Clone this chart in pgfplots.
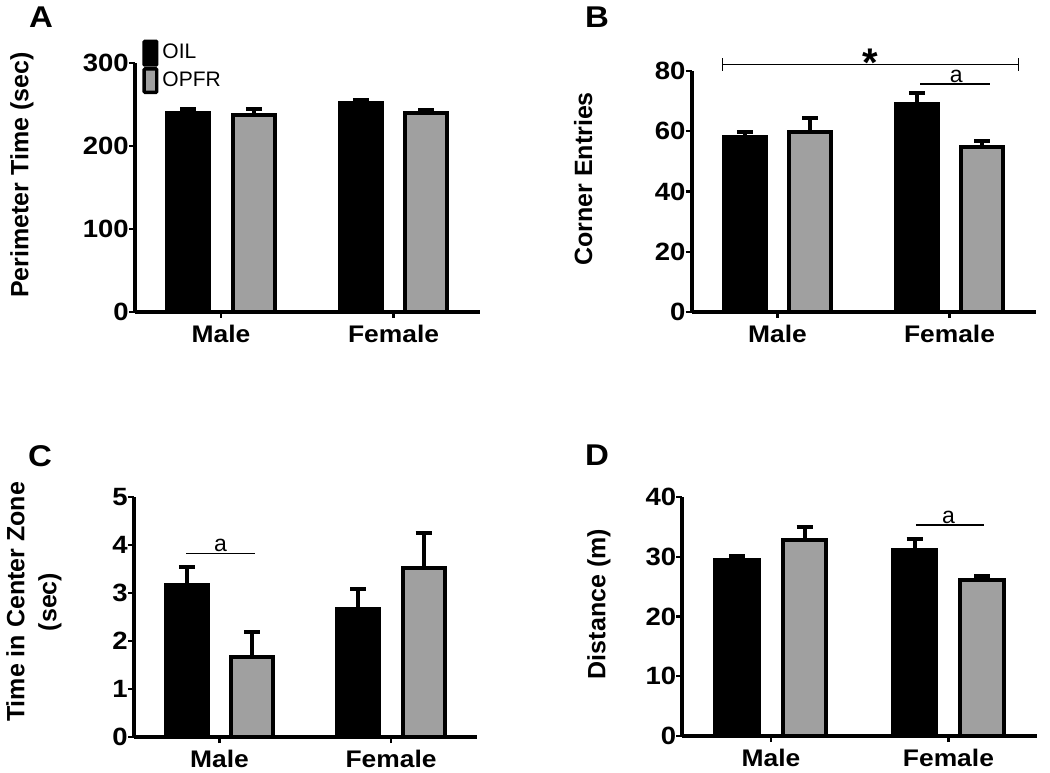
\documentclass[border=0pt]{standalone}
\usepackage{fontspec}
\setmainfont{Liberation Sans}
\newfontfamily\lsans{Liberation Sans}
\newfontfamily\tickfont{Liberation Sans}[FakeStretch=1.1]
\usepackage{pgfplots}
\pgfplotsset{compat=1.18}
\definecolor{opfrgray}{RGB}{160,160,160}
\tikzset{annot/.style={anchor=south, inner sep=0pt, font=\lsans\fontsize{11.5}{12}\selectfont}}
\pgfplotsset{
 panel/.style={
  scale only axis, anchor=south west,
  axis x line*=bottom, axis y line*=left,
  axis line style={line width=2pt,-},
  xmin=-0.5,xmax=1.5, ymin=0,
  xtick={0,1}, xticklabels={Male,Female},
  ybar, bar width=0.245,
  tick style={line width=1.2pt,black},
  major tick length=3pt, tick align=outside,
  /pgf/number format/assume math mode=true,
  yticklabel style={font=\tickfont\bfseries\fontsize{12.5}{14}\selectfont, xshift=3.5pt},
  xticklabel style={font=\tickfont\bfseries\fontsize{12}{14}\selectfont},
  ylabel style={font=\lsans\bfseries\fontsize{12.5}{16}\selectfont, anchor=center},
  clip=false,
  error bars/y dir=plus, error bars/y explicit,
  error bars/error bar style={line width=2pt,black},
  error bars/error mark options={rotate=90, line width=2pt, mark size=4pt,black},
 },
 oil/.style={fill=black,draw=black,line width=2pt,bar shift=-0.19},
 opfr/.style={fill=opfrgray,draw=black,line width=2pt,bar shift=0.19},
}
\begin{document}
\begin{tikzpicture}
\useasboundingbox (0,0) rectangle (525pt,386pt);
% Panel A
\begin{axis}[panel, at={(67.4pt,230pt)}, width=172.5pt, height=124.5pt,
  ymax=300, ytick={0,100,200,300},
  ylabel={Perimeter Time (sec)},
  ylabel style={at={(axis description cs:-0.3275,0.55)}},
  legend style={at={(axis description cs:0.021,1.095)}, anchor=north west, draw=none, fill=none,
    font=\lsans\fontsize{10.5}{12}\selectfont, row sep=0.3pt, inner sep=0pt,
    /tikz/every even column/.append style={column sep=1pt}},
  legend cell align=left]
\addplot[oil, legend image code/.code={\draw[fill=black,draw=black,line width=1pt,rounded corners=0.5pt] (0pt,-6.2pt) rectangle (7pt,6.2pt);}]
  coordinates {(0,240) +- (0,4.5) (1,252) +- (0,3.5)};
\addlegendentry{OIL}
\addplot[opfr, legend image code/.code={\draw[fill=opfrgray,draw=black,line width=1.7pt,rounded corners=0.5pt] (0.35pt,-5.9pt) rectangle (6.65pt,5.9pt);}]
  coordinates {(0,237) +- (0,8) (1,240) +- (0,3.5)};
\addlegendentry{OPFR}
\end{axis}
% Panel B
\begin{axis}[panel, at={(345.75pt,230pt)}, width=172pt, height=120.5pt,
  ymax=80, ytick={0,20,40,60,80},
  ylabel={Corner Entries},
  ylabel style={at={(axis description cs:-0.315,0.552)}}]
\addplot[oil] coordinates {(0,58.1) +- (0,1.5) (1,69.1) +- (0,3.7)};
\addplot[opfr] coordinates {(0,59.8) +- (0,4.7) (1,54.9) +- (0,1.9)};
\draw[line width=0.6pt, |-|] (axis cs:-0.323,82.1) -- (axis cs:1.404,82.1);
\node[font=\lsans\bfseries\fontsize{20}{20}\selectfont] at (axis cs:0.538,82.9) {*};
\draw[line width=0.6pt] (axis cs:0.83,75.7) -- (axis cs:1.235,75.7);
\node[annot] at (axis cs:1.04,75.9) {a};
\end{axis}
% Panel C
\begin{axis}[panel, at={(66.9pt,17.5pt)}, width=171.5pt, height=120pt,
  ymax=5, ytick={0,1,2,3,4,5},
  ylabel={Time in Center Zone\\(sec)},
  ylabel style={align=center, at={(axis description cs:-0.291,0.5625)}}]
\addplot[oil] coordinates {(0,3.17) +- (0,0.37) (1,2.67) +- (0,0.41)};
\addplot[opfr] coordinates {(0,1.67) +- (0,0.52) (1,3.52) +- (0,0.73)};
\draw[line width=0.6pt] (axis cs:-0.195,3.83) -- (axis cs:0.207,3.83);
\node[annot] at (axis cs:0.006,3.85) {a};
\end{axis}
% Panel D
\begin{axis}[panel, at={(341.1pt,18pt)}, width=177.5pt, height=119.5pt,
  ymax=40, ytick={0,10,20,30,40},
  ylabel={Distance (m)},
  ylabel style={at={(axis description cs:-0.2345,0.552)}}]
\addplot[oil] coordinates {(0,29.4) +- (0,0.7) (1,31.1) +- (0,1.8)};
\addplot[opfr] coordinates {(0,32.8) +- (0,2.2) (1,26.1) +- (0,0.7)};
\draw[line width=0.6pt] (axis cs:0.817,35.3) -- (axis cs:1.2,35.3);
\node[annot] at (axis cs:1.0,35.5) {a};
\end{axis}
% Panel letters
\node[font=\tickfont\bfseries\fontsize{15}{15}\selectfont] at (20.5pt,377.5pt) {A};
\node[font=\tickfont\bfseries\fontsize{15}{15}\selectfont] at (298.5pt,377.5pt) {B};
\node[font=\tickfont\bfseries\fontsize{15}{15}\selectfont] at (20pt,158pt) {C};
\node[font=\tickfont\bfseries\fontsize{15}{15}\selectfont] at (298.5pt,158.5pt) {D};
\end{tikzpicture}
\end{document}
